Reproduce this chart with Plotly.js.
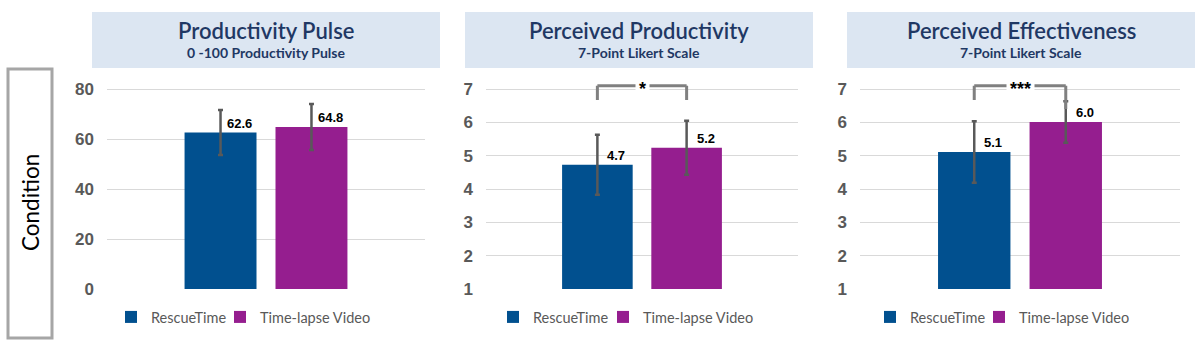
<!DOCTYPE html>
<html>
<head>
<meta charset="utf-8">
<script src="https://cdn.plot.ly/plotly-3.0.1.min.js"></script>
<style>html,body{margin:0;padding:0;background:#fff;}#chart{width:1200px;height:352px;}</style>
</head>
<body>
<div id="chart"></div>
<script>
// ---- data ----
const categories = ['Condition'];
const seriesNames = ['RescueTime', 'Time-lapse Video'];
const panelTitles = ['Productivity Pulse', 'Perceived Productivity', 'Perceived Effectiveness'];
const panelSubtitles = ['0 -100 Productivity Pulse', '7-Point Likert Scale', '7-Point Likert Scale'];
const rescueTimeValues = [62.6, 4.73, 5.11];
const timelapseValues = [64.8, 5.24, 6.01];
const rescueTimeErrors = [9.0, 0.9, 0.92];
const timelapseErrors = [9.2, 0.81, 0.62];
const significance = ['', '*', '***'];
const pulseTicks = [0, 20, 40, 60, 80];
const likertTicks = [1, 2, 3, 4, 5, 6, 7];

// ---- style / geometry ----
const W = 1200, H = 352;
const colors = ['#01508F', '#951E8F'];
const plotX = [[107, 425], [486, 798], [860, 1180]];
const boxX = [[92, 440], [465, 813], [847, 1195]];
const legendTextX = [[151, 260], [533, 643], [910, 1019]];
const plotTopPx = 75.7, plotBottomPx = 289;
const yRanges = [[0, 85.33], [1, 7.4], [1, 7.4]];
const bargap = 0.428, bargroupgap = 0.209;
const slot = (1 - bargap) / 2;
const offs = [-slot / 2, slot / 2];
const px = v => v / W;
const py = v => (H - v) / H;

const traces = [];
const layout = {
  width: W, height: H,
  margin: {l: 0, r: 0, t: 0, b: 0},
  paper_bgcolor: '#ffffff', plot_bgcolor: 'rgba(0,0,0,0)',
  barmode: 'group', bargap: bargap, bargroupgap: bargroupgap,
  showlegend: true,
  shapes: [], annotations: []
};

const valuesBySeries = [rescueTimeValues, timelapseValues];
const errorsBySeries = [rescueTimeErrors, timelapseErrors];

let legendIdx = 0;
for (let p = 0; p < 3; p++) {
  const sfx = p === 0 ? '' : String(p + 1);
  const xa = 'x' + sfx, ya = 'y' + sfx;
  for (let s = 0; s < 2; s++) {
    legendIdx++;
    const leg = legendIdx === 1 ? 'legend' : 'legend' + legendIdx;
    traces.push({
      type: 'bar', x: categories, y: [valuesBySeries[s][p]],
      name: seriesNames[s], xaxis: xa, yaxis: ya, legend: leg,
      marker: {color: colors[s]},
      error_y: {type: 'data', array: [errorsBySeries[s][p]], visible: true,
                color: '#595959', thickness: 2.5, width: 2.5},
      hoverinfo: 'skip'
    });
    layout[leg] = {
      orientation: 'h', x: px(legendTextX[p][s] - 40), xanchor: 'left',
      y: py(317), yanchor: 'middle', bgcolor: 'rgba(0,0,0,0)',
      font: {family: 'Lato, Open Sans, sans-serif', size: 14.5, color: '#595959'},
      itemclick: false, itemdoubleclick: false, itemwidth: 30
    };
    layout.annotations.push({
      xref: xa, yref: ya, x: offs[s], y: valuesBySeries[s][p],
      text: valuesBySeries[s][p].toFixed(1), showarrow: false,
      xanchor: 'center', yanchor: 'bottom', xshift: 19, yshift: 0,
      font: {family: 'Liberation Sans, Arial', size: 13, color: '#000', weight: 700}
    });
  }
  const isPulse = p === 0;
  layout['xaxis' + sfx] = {
    domain: [px(plotX[p][0]), px(plotX[p][1])], anchor: ya,
    type: 'category', range: [-0.5, 0.5], showticklabels: false,
    showgrid: false, zeroline: false, showline: false, fixedrange: true
  };
  layout['yaxis' + sfx] = {
    domain: [py(plotBottomPx), py(plotTopPx)], anchor: xa,
    range: yRanges[p], tickvals: isPulse ? pulseTicks : likertTicks,
    showgrid: true, gridcolor: '#d9d9d9', gridwidth: 1,
    zeroline: false, showline: false, ticks: '', ticklabelstandoff: 12,
    tickfont: {family: 'Liberation Sans, Arial', size: 17, color: '#595959', weight: 700},
    fixedrange: true
  };
  // title box
  layout.shapes.push({type: 'rect', xref: 'paper', yref: 'paper',
    x0: px(boxX[p][0]), x1: px(boxX[p][1]), y0: py(68), y1: py(12),
    fillcolor: '#dce6f2', line: {width: 0}, layer: 'below'});
  const cx = px((boxX[p][0] + boxX[p][1]) / 2);
  layout.annotations.push({xref: 'paper', yref: 'paper', x: cx, y: py(31),
    text: panelTitles[p], showarrow: false, xanchor: 'center', yanchor: 'middle',
    font: {family: 'Lato, sans-serif', size: 22, color: '#1f3864', weight: 600}});
  layout.annotations.push({xref: 'paper', yref: 'paper', x: cx, y: py(53),
    text: panelSubtitles[p], showarrow: false, xanchor: 'center', yanchor: 'middle',
    font: {family: 'Lato, sans-serif', size: 14, color: '#1f3864', weight: 700}});
  // significance bracket
  if (significance[p]) {
    const top = 7.1, lb = 6.67, rb = p === 2 ? 6.4 : 6.67;
    const ln = {color: '#808080', width: 3};
    layout.shapes.push({type: 'line', xref: xa, yref: ya, x0: offs[0], x1: offs[0], y0: lb, y1: top, line: ln});
    layout.shapes.push({type: 'line', xref: xa, yref: ya, x0: offs[0], x1: offs[1], y0: top, y1: top, line: ln});
    layout.shapes.push({type: 'line', xref: xa, yref: ya, x0: offs[1], x1: offs[1], y0: rb, y1: top, line: ln});
    layout.annotations.push({xref: xa, yref: ya, x: 0, y: top,
      text: significance[p], showarrow: false, xanchor: 'center', yanchor: 'middle',
      bgcolor: '#ffffff', borderpad: 3, yshift: -3,
      font: {family: 'Liberation Sans, Arial', size: 18, color: '#000', weight: 700}});
  }
}

// Condition box
layout.shapes.push({type: 'rect', xref: 'paper', yref: 'paper',
  x0: px(8), x1: px(52), y0: py(338), y1: py(69),
  fillcolor: 'rgba(0,0,0,0)', line: {color: '#a6a6a6', width: 3}});
layout.annotations.push({xref: 'paper', yref: 'paper', x: px(30), y: py(203),
  text: 'Condition', showarrow: false, textangle: -90, xanchor: 'center', yanchor: 'middle',
  font: {family: 'Lato, sans-serif', size: 22.5, color: '#000'}});

Plotly.newPlot('chart', traces, layout, {displayModeBar: false, staticPlot: true});
</script>
</body>
</html>
